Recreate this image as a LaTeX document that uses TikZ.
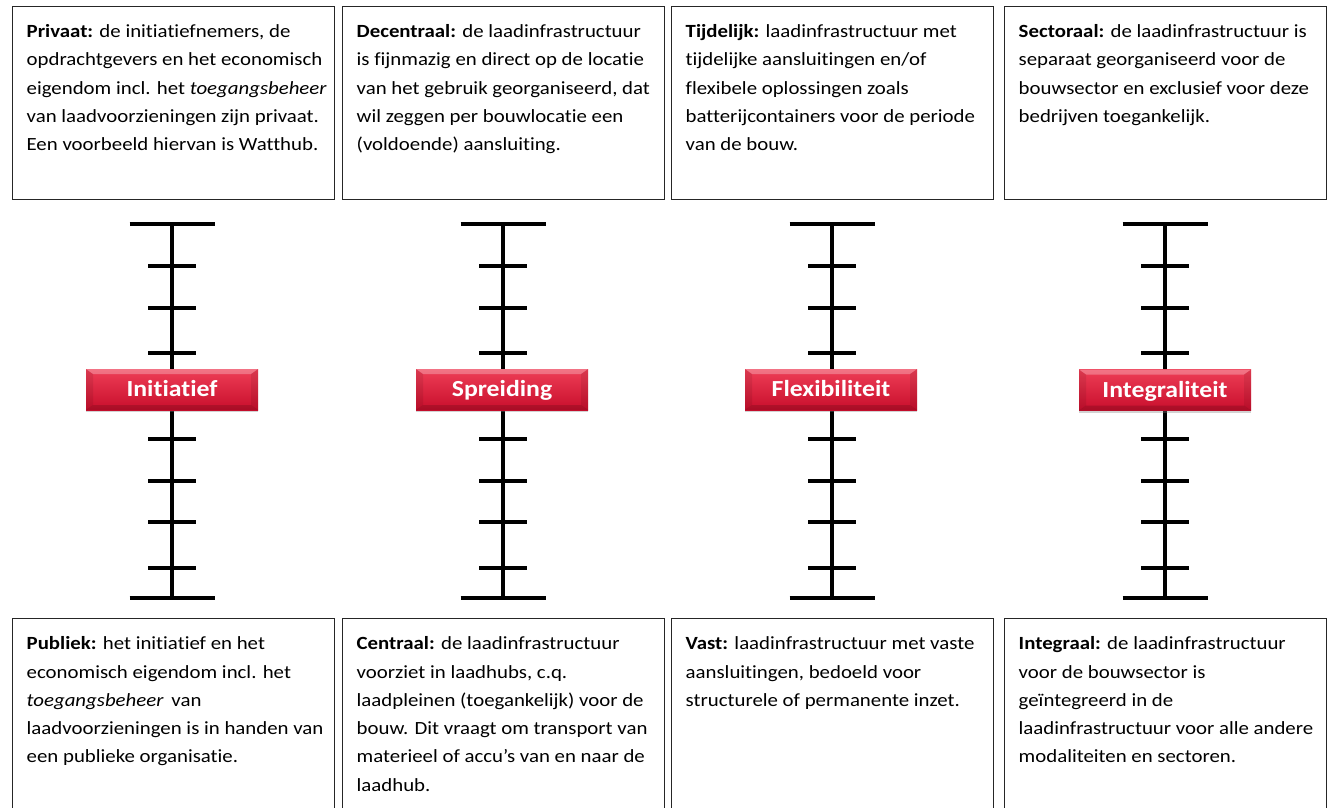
\documentclass[tikz,border=0pt]{standalone}
\usepackage{fontspec}
\setmainfont{Carlito}[FakeStretch=1.12,Ligatures=NoCommon]
\usepackage{xcolor}
\usetikzlibrary{positioning,shadows}
\definecolor{labeltop}{RGB}{238,62,86}
\definecolor{labelbot}{RGB}{200,14,44}
\tikzset{
  descbox/.style={draw=black!85,line width=1.4pt,anchor=north west,
    inner xsep=14pt,inner ysep=0pt,font=\fontsize{18.6}{28.3}\selectfont},
  scaleline/.style={line width=4pt,black},
  axislabel/.style={top color=labeltop,bottom color=labelbot,
    minimum width=172pt,minimum height=41pt,inner sep=0pt,text=white,
    text height=14.8pt,text depth=0pt,
    font=\bfseries\fontsize{23}{26}\selectfont,
    drop shadow={shadow xshift=0pt,shadow yshift=-2pt,opacity=0.35},
    path picture={
      \fill[white,opacity=0.28] (path picture bounding box.north west)
        -- (path picture bounding box.north east)
        -- ([xshift=-7pt,yshift=-5pt]path picture bounding box.north east)
        -- ([xshift=7pt,yshift=-5pt]path picture bounding box.north west) -- cycle;
      \fill[black,opacity=0.15] (path picture bounding box.south west)
        -- (path picture bounding box.south east)
        -- ([xshift=-7pt,yshift=5pt]path picture bounding box.south east)
        -- ([xshift=7pt,yshift=5pt]path picture bounding box.south west) -- cycle;
      \fill[black,opacity=0.08] (path picture bounding box.north west)
        -- ([xshift=7pt,yshift=-5pt]path picture bounding box.north west)
        -- ([xshift=7pt,yshift=5pt]path picture bounding box.south west)
        -- (path picture bounding box.south west) -- cycle;
      \fill[black,opacity=0.08] (path picture bounding box.north east)
        -- ([xshift=-7pt,yshift=-5pt]path picture bounding box.north east)
        -- ([xshift=-7pt,yshift=5pt]path picture bounding box.south east)
        -- (path picture bounding box.south east) -- cycle;
    }}
}
\newcommand{\desctext}[2]{\parbox[t][#1][t]{294pt}{\makebox[0pt][l]{%
  \parbox[t]{340pt}{\raggedright\rule{0pt}{31pt}#2}}}}

\begin{document}
\begin{tikzpicture}[x=1pt,y=-1pt]
  \path[use as bounding box,clip] (0,0) rectangle (1328,808);
  \fill[white] (0,0) rectangle (1328,808);

  % bovenste kaders
  \node[descbox] (top1) at (12,6) {\desctext{193pt}{\textbf{Privaat:} de initiatiefnemers, de\\
    opdrachtgevers en het economisch\\
    eigendom incl. het \textit{toegangsbeheer}\\
    van laadvoorzieningen zijn privaat.\\
    Een voorbeeld hiervan is Watthub.}};
  \node[descbox] (top2) at (342,6) {\desctext{193pt}{\textbf{Decentraal:} de laadinfrastructuur\\
    is fijnmazig en direct op de locatie\\
    van het gebruik georganiseerd, dat\\
    wil zeggen per bouwlocatie een\\
    (voldoende) aansluiting.}};
  \node[descbox] (top3) at (671,6) {\desctext{193pt}{\textbf{Tijdelijk:} laadinfrastructuur met\\
    tijdelijke aansluitingen en/of\\
    flexibele oplossingen zoals\\
    batterijcontainers voor de periode\\
    van de bouw.}};
  \node[descbox] (top4) at (1004,6) {\desctext{193pt}{\textbf{Sectoraal:} de laadinfrastructuur is\\
    separaat georganiseerd voor de\\
    bouwsector en exclusief voor deze\\
    bedrijven toegankelijk.}};

  % schalen
  \foreach \x in {172,503,832,1165}{
    \draw[scaleline] (\x,224) -- (\x,598);
    \draw[scaleline] (\x-42.5,224) -- (\x+42.5,224);
    \draw[scaleline] (\x-42.5,598) -- (\x+42.5,598);
    \foreach \y in {266,308,353,439,481,522,568}
      \draw[scaleline] (\x-24,\y) -- (\x+24,\y);
  }

  \node[axislabel] (lab1) at (172,389.5) {Initiatief};
  \node[axislabel] (lab2) at (502,389.5) {Spreiding};
  \node[axislabel] (lab3) at (831,389.5) {Flexibiliteit};
  \node[axislabel] (lab4) at (1165,390) {Integraliteit};

  % onderste kaders
  \node[descbox] (bot1) at (12,618) {\desctext{215pt}{\textbf{Publiek:} het initiatief en het\\
    economisch eigendom incl. het\\
    \textit{toegangsbeheer}\, van\\
    laadvoorzieningen is in handen van\\
    een publieke organisatie.}};
  \node[descbox] (bot2) at (342,618) {\desctext{215pt}{\textbf{Centraal:} de laadinfrastructuur\\
    voorziet in laadhubs, c.q.\\
    laadpleinen (toegankelijk) voor de\\
    bouw. Dit vraagt om transport van\\
    materieel of accu’s van en naar de\\
    laadhub.}};
  \node[descbox] (bot3) at (671,618) {\desctext{215pt}{\textbf{Vast:} laadinfrastructuur met vaste\\
    aansluitingen, bedoeld voor\\
    structurele of permanente inzet.}};
  \node[descbox] (bot4) at (1004,618) {\desctext{215pt}{\textbf{Integraal:} de laadinfrastructuur\\
    voor de bouwsector is\\
    geïntegreerd in de\\
    laadinfrastructuur voor alle andere\\
    modaliteiten en sectoren.}};
\end{tikzpicture}
\end{document}
